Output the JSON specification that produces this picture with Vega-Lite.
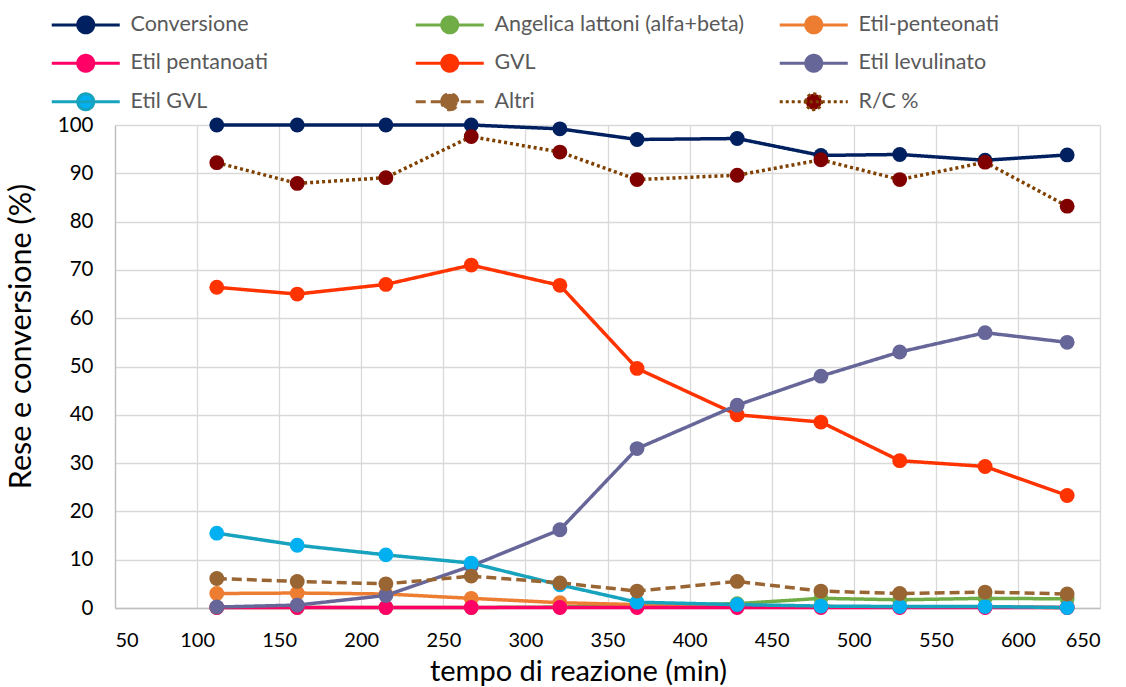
{
  "$schema": "https://vega.github.io/schema/vega-lite/v6.json",
  "width": 985,
  "height": 483,
  "autosize": {"type": "none"},
  "padding": {"left": 115, "top": 125, "right": 26, "bottom": 79},
  "background": "white",
  "data": {
    "values": [
      {"t": 112, "serie": "Conversione", "v": 100},
      {"t": 161, "serie": "Conversione", "v": 100},
      {"t": 215, "serie": "Conversione", "v": 100},
      {"t": 267, "serie": "Conversione", "v": 100},
      {"t": 321, "serie": "Conversione", "v": 99.2},
      {"t": 368, "serie": "Conversione", "v": 97.0},
      {"t": 429, "serie": "Conversione", "v": 97.2},
      {"t": 480, "serie": "Conversione", "v": 93.7},
      {"t": 528, "serie": "Conversione", "v": 93.9},
      {"t": 580, "serie": "Conversione", "v": 92.7},
      {"t": 630, "serie": "Conversione", "v": 93.8},
      {"t": 112, "serie": "Angelica lattoni (alfa+beta)", "v": 0.1},
      {"t": 161, "serie": "Angelica lattoni (alfa+beta)", "v": 0.1},
      {"t": 215, "serie": "Angelica lattoni (alfa+beta)", "v": 0.1},
      {"t": 267, "serie": "Angelica lattoni (alfa+beta)", "v": 0.1},
      {"t": 321, "serie": "Angelica lattoni (alfa+beta)", "v": 0.2},
      {"t": 368, "serie": "Angelica lattoni (alfa+beta)", "v": 0.5},
      {"t": 429, "serie": "Angelica lattoni (alfa+beta)", "v": 0.9},
      {"t": 480, "serie": "Angelica lattoni (alfa+beta)", "v": 2.0},
      {"t": 528, "serie": "Angelica lattoni (alfa+beta)", "v": 1.7},
      {"t": 580, "serie": "Angelica lattoni (alfa+beta)", "v": 2.0},
      {"t": 630, "serie": "Angelica lattoni (alfa+beta)", "v": 1.9},
      {"t": 112, "serie": "Etil-penteonati", "v": 3.0},
      {"t": 161, "serie": "Etil-penteonati", "v": 3.1},
      {"t": 215, "serie": "Etil-penteonati", "v": 2.9},
      {"t": 267, "serie": "Etil-penteonati", "v": 2.0},
      {"t": 321, "serie": "Etil-penteonati", "v": 1.1},
      {"t": 368, "serie": "Etil-penteonati", "v": 0.7},
      {"t": 429, "serie": "Etil-penteonati", "v": 0.5},
      {"t": 480, "serie": "Etil-penteonati", "v": 0.3},
      {"t": 528, "serie": "Etil-penteonati", "v": 0.2},
      {"t": 580, "serie": "Etil-penteonati", "v": 0.2},
      {"t": 630, "serie": "Etil-penteonati", "v": 0.1},
      {"t": 112, "serie": "Etil pentanoati", "v": 0.1},
      {"t": 161, "serie": "Etil pentanoati", "v": 0.1},
      {"t": 215, "serie": "Etil pentanoati", "v": 0.1},
      {"t": 267, "serie": "Etil pentanoati", "v": 0.1},
      {"t": 321, "serie": "Etil pentanoati", "v": 0.1},
      {"t": 368, "serie": "Etil pentanoati", "v": 0.1},
      {"t": 429, "serie": "Etil pentanoati", "v": 0.1},
      {"t": 480, "serie": "Etil pentanoati", "v": 0.1},
      {"t": 528, "serie": "Etil pentanoati", "v": 0.1},
      {"t": 580, "serie": "Etil pentanoati", "v": 0.1},
      {"t": 630, "serie": "Etil pentanoati", "v": 0.1},
      {"t": 112, "serie": "GVL", "v": 66.4},
      {"t": 161, "serie": "GVL", "v": 65.0},
      {"t": 215, "serie": "GVL", "v": 67.0},
      {"t": 267, "serie": "GVL", "v": 71.0},
      {"t": 321, "serie": "GVL", "v": 66.8},
      {"t": 368, "serie": "GVL", "v": 49.6},
      {"t": 429, "serie": "GVL", "v": 40.0},
      {"t": 480, "serie": "GVL", "v": 38.5},
      {"t": 528, "serie": "GVL", "v": 30.5},
      {"t": 580, "serie": "GVL", "v": 29.3},
      {"t": 630, "serie": "GVL", "v": 23.3},
      {"t": 112, "serie": "Etil levulinato", "v": 0.2},
      {"t": 161, "serie": "Etil levulinato", "v": 0.6},
      {"t": 215, "serie": "Etil levulinato", "v": 2.6},
      {"t": 267, "serie": "Etil levulinato", "v": 8.7},
      {"t": 321, "serie": "Etil levulinato", "v": 16.2},
      {"t": 368, "serie": "Etil levulinato", "v": 33.0},
      {"t": 429, "serie": "Etil levulinato", "v": 42.0},
      {"t": 480, "serie": "Etil levulinato", "v": 48.0},
      {"t": 528, "serie": "Etil levulinato", "v": 53.0},
      {"t": 580, "serie": "Etil levulinato", "v": 57.0},
      {"t": 630, "serie": "Etil levulinato", "v": 55.0},
      {"t": 112, "serie": "Etil GVL", "v": 15.5},
      {"t": 161, "serie": "Etil GVL", "v": 13.0},
      {"t": 215, "serie": "Etil GVL", "v": 11.0},
      {"t": 267, "serie": "Etil GVL", "v": 9.3},
      {"t": 321, "serie": "Etil GVL", "v": 4.8},
      {"t": 368, "serie": "Etil GVL", "v": 1.2},
      {"t": 429, "serie": "Etil GVL", "v": 0.7},
      {"t": 480, "serie": "Etil GVL", "v": 0.4},
      {"t": 528, "serie": "Etil GVL", "v": 0.3},
      {"t": 580, "serie": "Etil GVL", "v": 0.3},
      {"t": 630, "serie": "Etil GVL", "v": 0.1},
      {"t": 112, "serie": "Altri", "v": 6.1},
      {"t": 161, "serie": "Altri", "v": 5.5},
      {"t": 215, "serie": "Altri", "v": 5.0},
      {"t": 267, "serie": "Altri", "v": 6.6},
      {"t": 321, "serie": "Altri", "v": 5.2},
      {"t": 368, "serie": "Altri", "v": 3.5},
      {"t": 429, "serie": "Altri", "v": 5.5},
      {"t": 480, "serie": "Altri", "v": 3.5},
      {"t": 528, "serie": "Altri", "v": 3.0},
      {"t": 580, "serie": "Altri", "v": 3.3},
      {"t": 630, "serie": "Altri", "v": 2.9},
      {"t": 112, "serie": "R/C %", "v": 92.2},
      {"t": 161, "serie": "R/C %", "v": 87.9},
      {"t": 215, "serie": "R/C %", "v": 89.1},
      {"t": 267, "serie": "R/C %", "v": 97.6},
      {"t": 321, "serie": "R/C %", "v": 94.4},
      {"t": 368, "serie": "R/C %", "v": 88.7},
      {"t": 429, "serie": "R/C %", "v": 89.6},
      {"t": 480, "serie": "R/C %", "v": 92.8},
      {"t": 528, "serie": "R/C %", "v": 88.7},
      {"t": 580, "serie": "R/C %", "v": 92.3},
      {"t": 630, "serie": "R/C %", "v": 83.2}
    ]
  },
  "encoding": {
    "x": {
      "field": "t", "type": "quantitative",
      "scale": {"domain": [50, 650], "nice": false, "zero": false},
      "axis": {
        "title": "tempo di reazione (min)",
        "values": [50, 100, 150, 200, 250, 300, 350, 400, 450, 500, 550, 600, 650],
        "grid": true, "ticks": false, "labelPadding": 22, "labelFontSize": 20,
        "titlePadding": 7, "titleFontSize": 29, "titleX": 463, "titleAlign": "center"
      }
    },
    "y": {
      "field": "v", "type": "quantitative",
      "scale": {"domain": [0, 100], "nice": false},
      "axis": {
        "title": "Rese e conversione (%)",
        "values": [0, 10, 20, 30, 40, 50, 60, 70, 80, 90, 100],
        "grid": true, "ticks": false, "labelPadding": 22,
        "titlePadding": 21, "titleY": 211, "titleAlign": "center"
      }
    }
  },
  "layer": [
    {
      "mark": {"type": "line", "strokeWidth": 3.5},
      "encoding": {
        "stroke": {
          "field": "serie", "type": "nominal",
          "scale": {
            "domain": ["Conversione", "Etil pentanoati", "Etil GVL", "Angelica lattoni (alfa+beta)", "GVL", "Altri", "Etil-penteonati", "Etil levulinato", "R/C %"],
            "range": ["#002060", "#FF0066", "#17A3BE", "#70AD47", "#FF3300", "#996633", "#ED7D31", "#666699", "#7F4000"]
          },
          "legend": {
            "title": null,
            "orient": "none",
            "legendX": -40,
            "legendY": -111,
            "columns": 3,
            "symbolType": "M-4,0H4M-0.94,0A0.94,0.94,0,1,1,0.94,0A0.94,0.94,0,1,1,-0.94,0Z",
            "symbolSize": 289,
            "symbolStrokeWidth": 3,
            "labelOffset": 34,
            "labelFont": "Lato",
            "labelFontSize": 21.5,
            "labelColor": "#595959",
            "labelLimit": 400,
            "rowPadding": 9.5,
            "columnPadding": 29,
            "gridAlign": "all",
            "padding": 0,
            "encode": {"symbols": {"update": {"fill": {"scale": "fill", "field": "value"}}}}
          }
        },
        "strokeDash": {
          "field": "serie", "type": "nominal",
          "scale": {
            "domain": ["Conversione", "Etil pentanoati", "Etil GVL", "Angelica lattoni (alfa+beta)", "GVL", "Altri", "Etil-penteonati", "Etil levulinato", "R/C %"],
            "range": [[1, 0], [1, 0], [1, 0], [1, 0], [1, 0], [10, 5], [1, 0], [1, 0], [3, 3]]
          }
        }
      }
    },
    {
      "mark": {"type": "point", "filled": true, "size": 220, "opacity": 1},
      "encoding": {
        "fill": {
          "field": "serie", "type": "nominal",
          "scale": {
            "domain": ["Conversione", "Etil pentanoati", "Etil GVL", "Angelica lattoni (alfa+beta)", "GVL", "Altri", "Etil-penteonati", "Etil levulinato", "R/C %"],
            "range": ["#002060", "#FF0066", "#00B0F0", "#70AD47", "#FF3300", "#996633", "#ED7D31", "#666699", "#800000"]
          }
        }
      }
    }
  ],
  "config": {
    "view": {"stroke": null},
    "font": "Lato",
    "axis": {
      "labelFont": "Lato", "labelFontSize": 20.5, "labelColor": "#000000",
      "titleFont": "Lato", "titleFontSize": 30.5, "titleFontWeight": "normal", "titleColor": "#000000",
      "gridColor": "#D9D9D9", "gridWidth": 1.3,
      "domainColor": "#BFBFBF", "domainWidth": 1.3
    },
    "legend": {"padding": 0}
  }
}
